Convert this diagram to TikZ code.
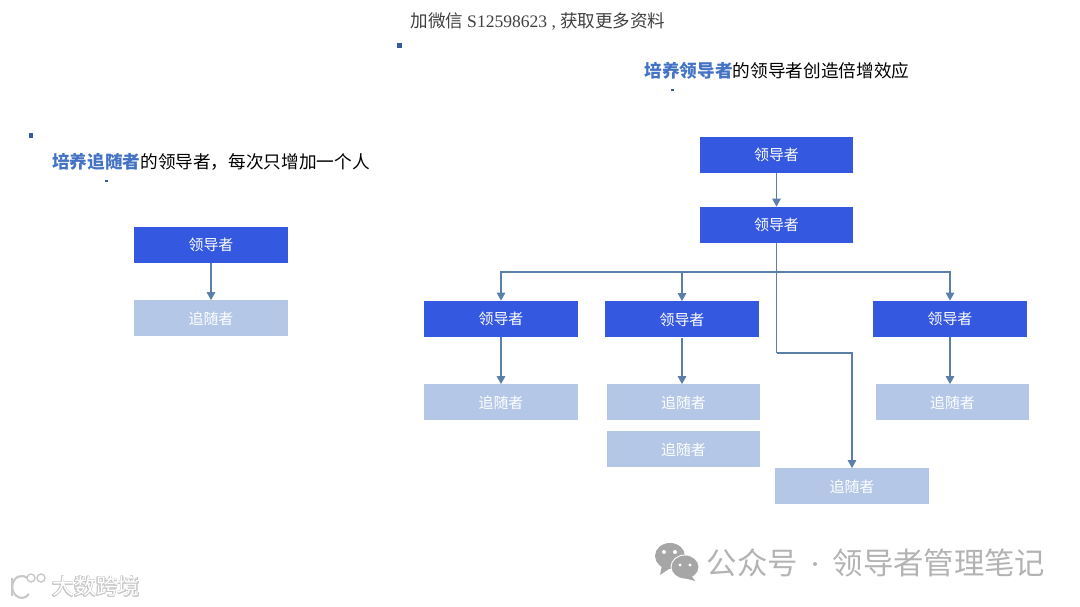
\documentclass[tikz,border=0pt]{standalone}
\usepackage{fontspec}
\usepackage{contour}
\setmainfont{Noto Sans CJK SC}
\newfontfamily\latinserif{Liberation Serif}
\usetikzlibrary{arrows.meta}
\definecolor{leaderblue}{HTML}{3558E0}
\definecolor{followblue}{HTML}{B4C7E7}
\definecolor{linkblue}{HTML}{5A7FA8}
\definecolor{titleblue}{HTML}{4472C4}
\definecolor{markgray}{HTML}{A6A6A6}
\definecolor{marklight}{HTML}{C8C8C8}
\contourlength{0.45pt}
\tikzset{
 leader/.style={fill=leaderblue,text=white,minimum width=3.08cm,minimum height=0.72cm,inner sep=0pt,font=\fontsize{8.5}{10}\selectfont},
 follower/.style={leader,fill=followblue},
 plainlink/.style={draw=linkblue,line width=0.7pt},
 link/.style={plainlink,-{Triangle[length=0.16cm,width=0.17cm]}},
 headline/.style={inner sep=0pt,font=\fontsize{10.05}{12}\selectfont},
 speck/.style={fill=titleblue!80!black,minimum size=0.1cm,inner sep=0pt},
}
\begin{document}
\begin{tikzpicture}[x=0.02cm,y=-0.02cm]
\useasboundingbox (0,0) rectangle (1080,607);
% top line
 \node[inner sep=0pt,text=black!75,font=\fontsize{10}{12}\selectfont] (wechat) at (538,21) {加微信 {\latinserif S12598623 ,} 获取更多资料};
 \node[speck] (speckA) at (399.5,45.5) {};
 \node[speck] (speckB) at (31,136) {};
 \node[speck,minimum width=0.06cm,minimum height=0.03cm] (speckC) at (106,181) {};
 \node[speck,minimum width=0.06cm,minimum height=0.03cm] (speckD) at (672,90) {};
% left tree
 \node[headline] (titleL) at (211,162) {\textbf{\textcolor{titleblue}{培养追随者}}的领导者，每次只增加一个人};
 \node[leader] (leadL) at (211,245) {领导者};
 \node[follower] (followL) at (211,318.5) {追随者};
 \draw[link] (leadL) -- (followL);
% right tree
 \node[headline] (titleR) at (777,71) {\textbf{\textcolor{titleblue}{培养领导者}}的领导者创造倍增效应};
 \node[leader] (leadA) at (776.5,155) {领导者};
 \node[leader] (leadB) at (776.5,225) {领导者};
 \draw[link] (leadA) -- (leadB);
% second row
 \node[leader] (leadC) at (501,319) {领导者};
 \node[leader] (leadD) at (682,319.5) {领导者};
 \node[leader] (leadE) at (950,319) {领导者};
 \coordinate (bus) at (776.5,272);
 \coordinate (elbow) at (776.5,353);
 \draw[plainlink] (leadB) -- (bus);
 \draw[link] (bus) -| (leadC.north);
 \draw[link] (bus) -| (leadD.north);
 \draw[link] (bus) -| (leadE.north);
% followers
 \node[follower] (followC) at (501,402.5) {追随者};
 \node[follower] (followD) at (683.5,402.5) {追随者};
 \node[follower] (followE) at (683.5,449.5) {追随者};
 \node[follower] (followF) at (852,486.5) {追随者};
 \node[follower] (followG) at (952.5,402.5) {追随者};
 \draw[link] (leadC) -- (followC);
 \draw[link] (leadD.south) -- (leadD.south |- followD.north);
 \draw[link] (leadE.south) -- (leadE.south |- followG.north);
 \draw[plainlink] (bus) -- (elbow);
 \draw[link] (elbow) -| (followF.north);
% watermark right
 \fill[markgray] (670,556) ellipse (15 and 13);
 \fill[markgray] (662,565)--(660,575)--(672,567)--cycle;
 \draw[white,fill=markgray,line width=0.5pt] (685,567) ellipse (14 and 12);
 \fill[markgray] (691,575)--(695,581)--(684,578)--cycle;
 \fill[white] (664,552) circle (2) (675,552) circle (2) (680,565) circle (1.6) (690,565) circle (1.6);
 \node[inner sep=0pt,text=markgray!85,font=\fontsize{17.3}{20}\selectfont] (markA) at (752.5,563) {公众号};
 \node[inner sep=0pt,text=markgray!85,font=\fontsize{17.3}{20}\selectfont] (markB) at (939,563) {领导者管理笔记};
 \fill[markgray!85] (815,564) circle (2);
% watermark left
 \draw[marklight,line width=1.2pt] (12,578)--(12,596);
 \draw[marklight,line width=1.2pt] (29,594) arc(40:320:9.5 and 11);
 \draw[marklight,fill=white,line width=0.8pt] (31,578) circle (4) (41,578) circle (4);
 \node[inner sep=0pt,font=\fontsize{12.5}{15}\selectfont] (markL) at (96,587) {\contour{marklight}{\textcolor{white}{大数跨境}}};
\end{tikzpicture}
\end{document}
